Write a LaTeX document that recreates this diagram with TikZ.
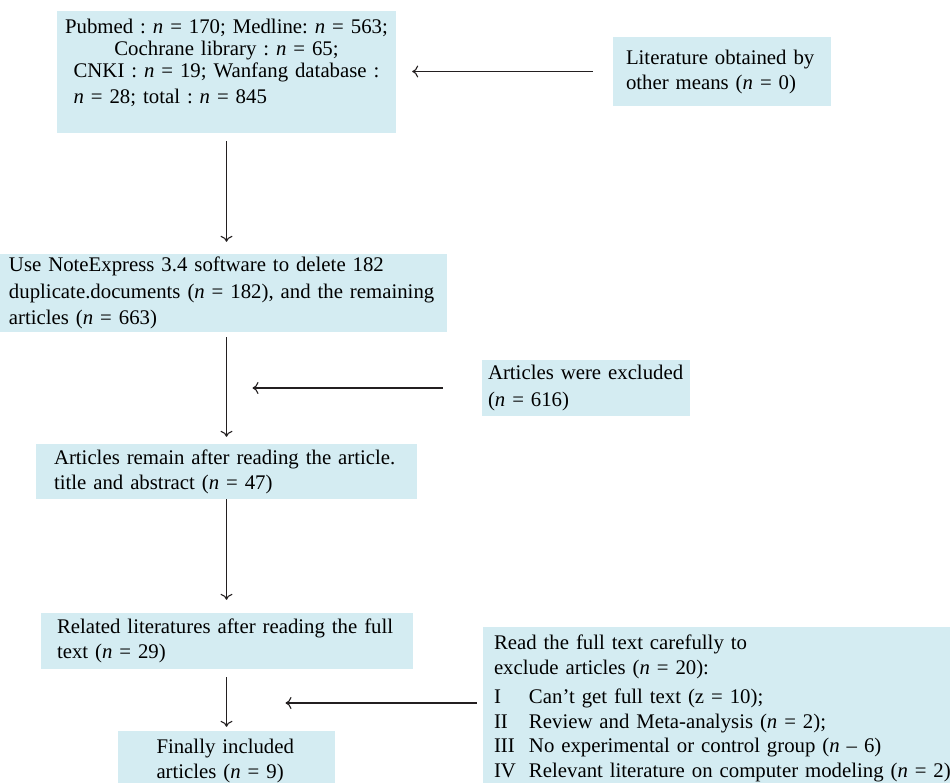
\documentclass[tikz,border=0pt]{standalone}
\usepackage{fontspec}
\setmainfont{Liberation Serif}
\usetikzlibrary{arrows.meta}
\definecolor{boxfill}{RGB}{212,236,242}
\definecolor{linegray}{RGB}{35,31,32}
\newcommand{\nv}{\textit{n}}
\newcommand{\rn}[1]{\makebox[35pt][l]{#1}}

\begin{document}
\frenchspacing
\begin{tikzpicture}[x=1pt,y=-1pt,
  box/.style={fill=boxfill, inner ysep=0pt, align=left, font=\fontsize{20.8}{25}\selectfont},
  conn/.style={->, line width=1.1pt, draw=linegray},
  >={To[length=6pt,width=12pt]}]
\useasboundingbox (0,0) rectangle (950,782);

\node[box, align=center, text width=325pt, inner xsep=7pt, minimum height=122pt,
  font=\fontsize{20.8}{22}\selectfont] (db) at (226.5,72)
  {Pubmed : \nv{} = 170; Medline: \nv{} = 563;\\
   Cochrane library : \nv{} = 65;\\
   \begin{tabular}[t]{@{}l@{}}CNKI : \nv{} = 19; Wanfang database :\\[4pt]
   \nv{} = 28; total : \nv{} = 845\rule[-22pt]{0pt}{22pt}\end{tabular}};
\node[box, text width=192pt, inner xsep=13pt, minimum height=69pt] (other) at (722,71.5)
  {Literature obtained by\\ other means (\nv{} = 0)};
\node[box, text width=429pt, inner xsep=9pt, minimum height=78pt,
  font=\fontsize{20.8}{26.5}\selectfont] (dedup) at (223.5,293)
  {Use NoteExpress 3.4 software to delete 182\\
   duplicate.documents (\nv{} = 182), and the remaining\\
   articles (\nv{} = 663)};
\node[box, text width=196pt, inner xsep=6pt, minimum height=56pt,
  font=\fontsize{20.8}{27}\selectfont] (excl1) at (586,388)
  {Articles were excluded\\ (\nv{} = 616)};
\node[box, text width=345pt, inner xsep=18pt, minimum height=55pt] (remain) at (226.5,471.5)
  {Articles remain after reading the article.\\ title and abstract (\nv{} = 47)};
\node[box, text width=340pt, inner xsep=16pt, minimum height=56pt] (fulltext) at (227,641)
  {Related literatures after reading the full\\ text (\nv{} = 29)};
\node[box, text width=140pt, inner xsep=38.5pt, minimum height=59pt] (final) at (226.5,760.5)
  {Finally included\\ articles (\nv{} = 9)};
\node[box, text width=460pt, inner xsep=11pt, minimum height=163pt,
  font=\fontsize{20.8}{24.5}\selectfont] (excl2) at (724,708.5)
  {Read the full text carefully to\\
   exclude articles (\nv{} = 20):\\[5pt]
   \rn{I}Can't get full text (z = 10);\\
   \rn{II}Review and Meta-analysis (\nv{} = 2);\\
   \rn{III}No experimental or control group (\nv{} -- 6)\\
   \rn{IV}Relevant literature on computer modeling (\nv{} = 2)};

\coordinate (m1) at (226.5,388);
\coordinate (m2) at (226.5,703);

\draw[conn, shorten <=20pt, shorten >=16pt] (other.west) -- (other.west -| db.east);
\draw[conn, shorten <=8pt, shorten >=12pt] (db.south) -- (db.south |- dedup.north);
\draw[conn, shorten <=5pt, shorten >=7pt] (dedup.south -| remain.north) -- (remain.north);
\draw[conn, shorten <=39pt, shorten >=26pt] (excl1.west) -- (m1);
\draw[conn, shorten >=13pt] (remain.south) -- (remain.south |- fulltext.north);
\draw[conn, shorten <=8pt, shorten >=4pt] (fulltext.south -| final.north) -- (final.north);
\draw[conn, shorten <=6pt, shorten >=59pt] (excl2.west |- m2) -- (m2);
\end{tikzpicture}
\end{document}
